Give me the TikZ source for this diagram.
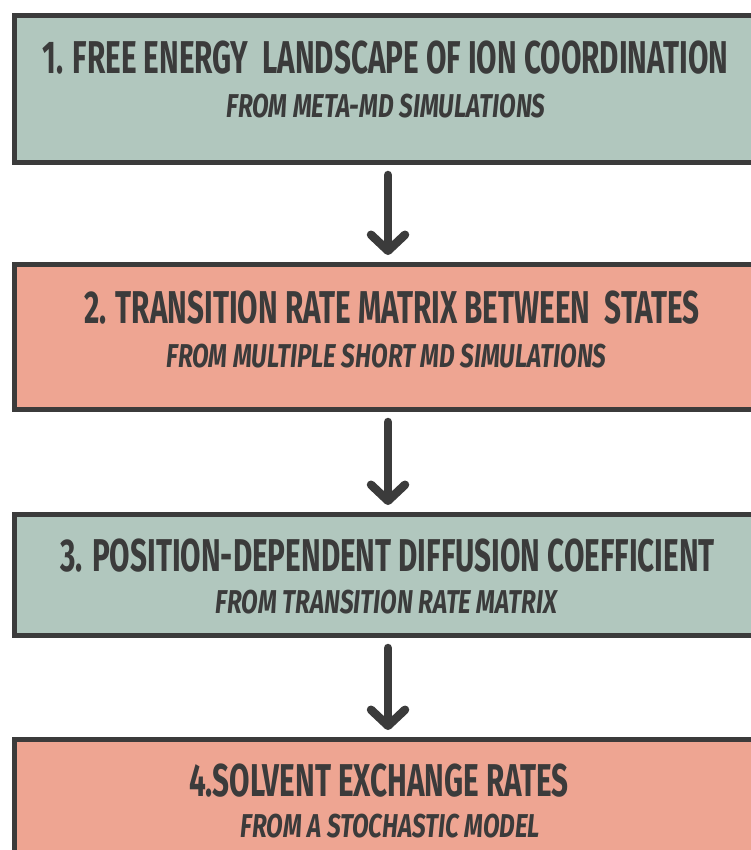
\documentclass[tikz,border=0pt]{standalone}
\usepackage{fontspec}
\setmainfont{Fira Sans}
\newfontfamily\headfont{Fira Sans}[FakeStretch=0.645]
\newfontfamily\subfont{Fira Sans}[FakeStretch=0.735]
\usetikzlibrary{arrows.meta}
\definecolor{sage}{HTML}{B1C7BE}
\definecolor{salmon}{HTML}{EEA592}
\definecolor{ink}{HTML}{3B3B3B}
\begin{document}
\begin{tikzpicture}[x=1pt,y=-1pt,
  stage/.style={draw=ink,line width=5pt,minimum width=747pt,inner sep=0pt},
  head/.style={anchor=base,text=ink,inner sep=0pt,
    font=\headfont\bfseries\fontsize{46}{50}\selectfont},
  sub/.style={anchor=base,text=ink,inner sep=0pt,
    font=\subfont\bfseries\itshape\fontsize{33}{36}\selectfont},
  flow/.style={ink,line width=8.5pt,line cap=round,shorten <=10pt,shorten >=7pt,
    -{Straight Barb[round,length=16pt,width=34pt]}}]
 \useasboundingbox (0,0) rectangle (751,850);
 \clip (0,0) rectangle (751,850);
 % the four stages, the last one runs off the page
 \node[stage,fill=sage,minimum height=147pt] (box1) at (388,89) {};
 \node[stage,fill=salmon,minimum height=145pt] (box2) at (388,337) {};
 \node[stage,fill=sage,minimum height=121pt] (box3) at (388,575) {};
 \node[stage,fill=salmon,minimum height=140pt] (box4) at (388,809.5) {};
 \node[head] (head1) at (385.5,74) {1. FREE ENERGY\ \ LANDSCAPE OF ION COORDINATION};
 \node[sub] (sub1) at (386,118) {FROM META-MD SIMULATIONS};
 \node[head] (head2) at (392,323) {2. TRANSITION RATE MATRIX BETWEEN\ \ STATES};
 \node[sub] (sub2) at (386.5,367) {FROM MULTIPLE SHORT MD SIMULATIONS};
 \node[head] (head3) at (387.5,571) {3. POSITION-DEPENDENT DIFFUSION COEFFICIENT};
 \node[sub] (sub3) at (386.5,613) {FROM TRANSITION RATE MATRIX};
 \node[head] (head4) at (379,796) {4.SOLVENT EXCHANGE RATES};
 \node[sub] (sub4) at (390.5,837) {FROM A STOCHASTIC MODEL};
 \foreach \a/\b in {box1/box2,box2/box3,box3/box4}
    \draw[flow] (\a) -- (\b);
\end{tikzpicture}
\end{document}
